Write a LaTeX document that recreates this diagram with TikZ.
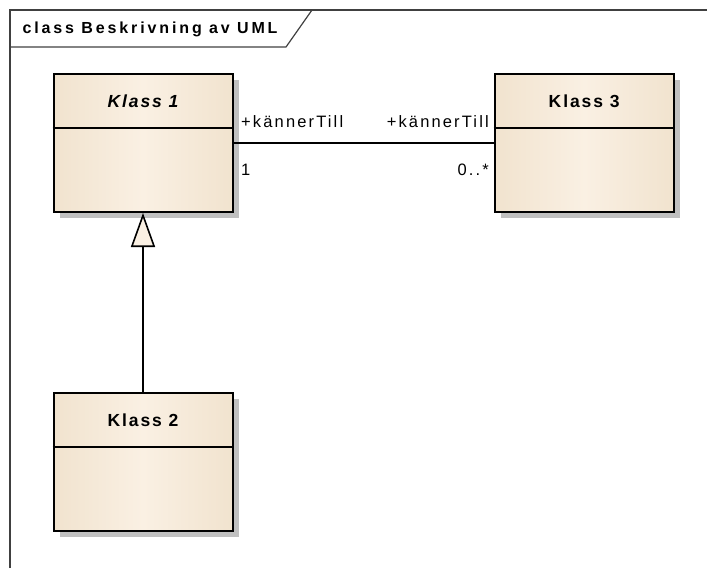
\documentclass[tikz,border=0pt]{standalone}
\usepackage{fontspec}
\setmainfont{Liberation Sans}
\newfontfamily\titlefont[LetterSpace=18]{Liberation Sans}
\newfontfamily\namefont[LetterSpace=11]{Liberation Sans}
\newfontfamily\rolefont[LetterSpace=13]{Liberation Sans}
\usetikzlibrary{arrows.meta}
\usetikzlibrary{shadows}
\definecolor{umledge}{HTML}{E8D6BA}
\definecolor{umlmid}{HTML}{FAF0E3}
\definecolor{umlshadow}{HTML}{C0C0C0}
\definecolor{framegray}{HTML}{404040}
\pgfdeclarehorizontalshading{classfill}{100bp}{color(0bp)=(umledge); color(50bp)=(umlmid); color(100bp)=(umledge)}

\begin{document}
\begin{tikzpicture}[x=1pt,y=-1pt]
		\useasboundingbox (0,0) rectangle (707,568);
		% frame
		\draw[framegray, line width=1.2pt] (10,568) -- (10,10) -- (707,10);
		\draw[framegray, line width=1.2pt] (10,47) -- (286,47) -- (312,10);
		\node[anchor=west, font=\titlefont\bfseries\fontsize{16}{18}\selectfont] (title) at (19,29) {class Beskrivning av UML};

		\begin{scope}[every node/.style={rectangle, draw=black, line width=2pt,
		              minimum width=179pt, minimum height=138pt, inner sep=0pt,
		              shading=classfill, shading angle=0,
		              general shadow={fill=umlshadow, shadow xshift=6pt, shadow yshift=-6pt}}]
			\node (klass1) at (143,143) {};
			\node (klass3) at (584.2,143) {};
			\node (klass2) at (143,462) {};
		\end{scope}

		\begin{scope}[every node/.style={font=\namefont\bfseries\fontsize{17.5}{19}\selectfont}]
			\node (name1) at (143,101) {\itshape Klass 1};
			\node (name3) at (584.2,101) {Klass 3};
			\node (name2) at (143,420) {Klass 2};
		\end{scope}
		\draw[line width=2pt] (klass1.west |- 0,128) -- (klass1.east |- 0,128);
		\draw[line width=2pt] (klass3.west |- 0,128) -- (klass3.east |- 0,128);
		\draw[line width=2pt] (klass2.west |- 0,447) -- (klass2.east |- 0,447);

		\begin{scope}[every node/.style={font=\rolefont\fontsize{16.5}{18}\selectfont, inner sep=0pt},
		              every edge/.style={draw=black, line width=1.6pt}]
			\path (klass1) edge (klass3);
			\node[anchor=base west] (role1) at (241,127) {+k\"annerTill};
			\node[anchor=base west] (mult1) at (241,175) {1};
			\node[anchor=base east] (role3) at (489,127) {+k\"annerTill};
			\node[anchor=base east] (mult3) at (489,175) {0..*};
		\end{scope}

		\draw[line width=1.6pt, -{Triangle[length=34pt, width=24pt, fill=umlmid]}] (klass2) -- (klass1);
\end{tikzpicture}
\end{document}
